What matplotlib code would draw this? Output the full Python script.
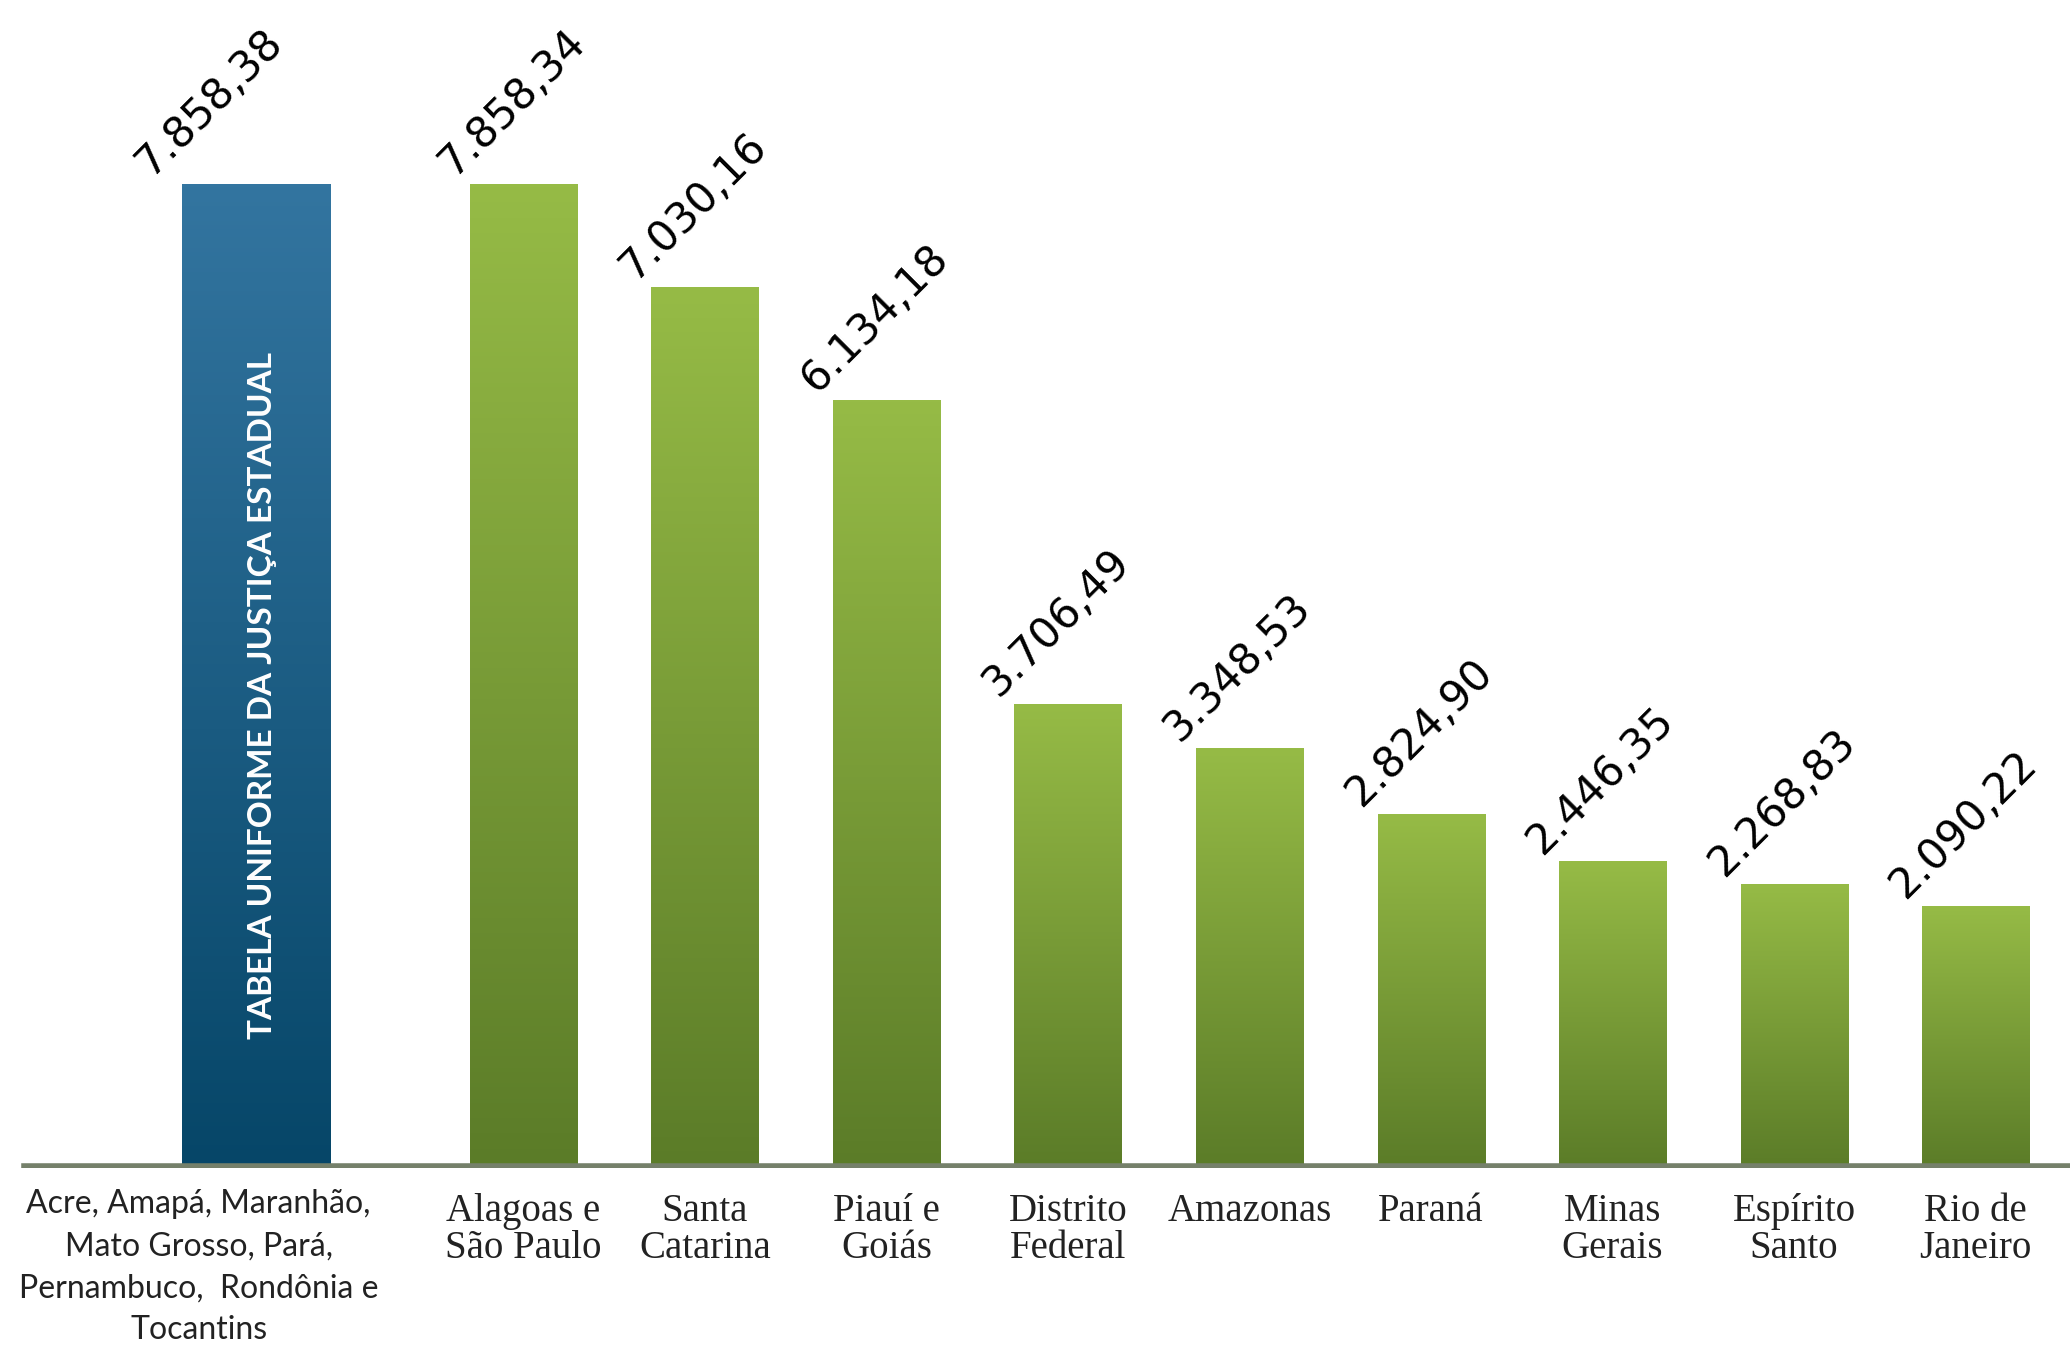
import matplotlib.pyplot as plt
import numpy as np
from matplotlib.colors import LinearSegmentedColormap

# values
categories = ["Acre, Amapá, Maranhão,\nMato Grosso, Pará,\nPernambuco,  Rondônia e\nTocantins",
              "Alagoas e\nSão Paulo", "Santa\nCatarina", "Piauí e\nGoiás", "Distrito\nFederal",
              "Amazonas", "Paraná", "Minas\nGerais", "Espírito\nSanto", "Rio de\nJaneiro"]
values = [7858.38, 7858.34, 7030.16, 6134.18, 3706.49, 3348.53, 2824.90, 2446.35, 2268.83, 2090.22]
value_labels = ["7.858,38", "7.858,34", "7.030,16", "6.134,18", "3.706,49",
                "3.348,53", "2.824,90", "2.446,35", "2.268,83", "2.090,22"]
inner_title = "TABELA UNIFORME DA JUSTIÇA ESTADUAL"

fig = plt.figure(figsize=(20.7, 13.46), dpi=100)
ax = fig.add_axes([0, 0.1324, 1, 0.8676])

# first (blue) bar sits apart, wider
xpos = np.arange(len(values), dtype=float)
xpos[0] = xpos[1] - 1.47
widths = [0.82] + [0.59] * (len(values) - 1)

blue_cm = LinearSegmentedColormap.from_list("b", ["#064668", "#3375A0"])
green_cm = LinearSegmentedColormap.from_list("g", ["#5B7C28", "#96BB46"])
grad = np.linspace(0, 1, 256).reshape(-1, 1)

bars = ax.bar(xpos, values, width=widths, color="none", edgecolor="none")
for i, b in enumerate(bars):
    x0, w, h = b.get_x(), b.get_width(), b.get_height()
    cm = blue_cm if i == 0 else green_cm
    im = ax.imshow(grad, cmap=cm, origin="lower", aspect="auto",
                   extent=[x0, x0 + w, 0, h], zorder=1)
    im.set_clip_path(b)
    off = 0.17 if i == 0 else 0.09
    ax.text(x0 - off, h + 50, value_labels[i], rotation=45, rotation_mode="anchor",
            ha="left", va="baseline", fontsize=30.5, family="DejaVu Sans", color="black")

ax.text(xpos[0] + 0.03, values[0] * 0.48, inner_title, rotation=90, ha="center", va="center",
        color="white", fontsize=24, fontweight="bold", family="Lato")

ax.axhline(0, xmin=0.0128, xmax=1, color="#75806A", linewidth=7.6, zorder=3)

for i, lab in enumerate(categories):
    if i == 0:
        ax.text(xpos[0] - 0.32, -170, lab, ha="center", va="top", fontsize=23,
                family="Lato", linespacing=1.5, color="#222222")
    else:
        ax.text(xpos[i], -200, lab, ha="center", va="top", fontsize=28,
                family="Liberation Serif", linespacing=1.0, color="#222222")

ax.set_xlim(-1.884, 9.520)
ax.set_ylim(0, 9326)
ax.axis("off")

fig.savefig("out.png", dpi=100)
